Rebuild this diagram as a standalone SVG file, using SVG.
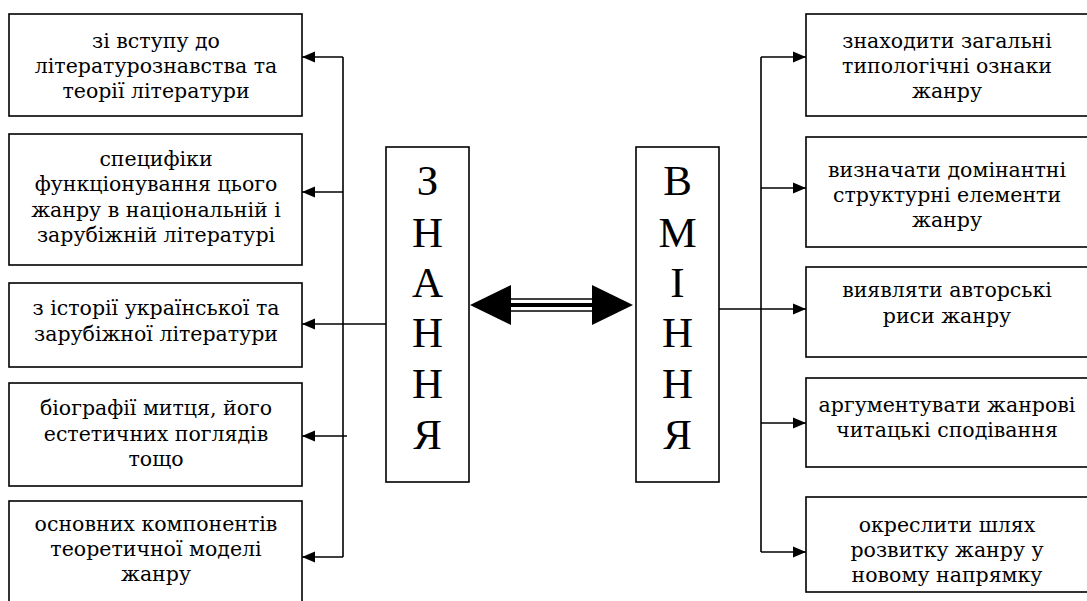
<svg xmlns="http://www.w3.org/2000/svg" width="1087" height="601" viewBox="0 0 1087 601">
<defs>
<style>
.box{fill:#fff;stroke:#000;stroke-width:1.6}
.ln{stroke:#000;stroke-width:1.6;fill:none}
</style>
<marker id="ah" markerUnits="userSpaceOnUse" markerWidth="14" markerHeight="12" refX="13" refY="6" orient="auto">
<path d="M0,0.5 L13,6 L0,11.5 Z" fill="#000"/>
</marker>
</defs>
<rect width="1087" height="601" fill="#fff"/>

<g id="connectors">
<line class="ln" x1="343" y1="57" x2="343" y2="557"/>
<line class="ln" x1="343" y1="57" x2="302" y2="57" marker-end="url(#ah)"/>
<line class="ln" x1="343" y1="192" x2="302" y2="192" marker-end="url(#ah)"/>
<line class="ln" x1="386" y1="324" x2="302" y2="324" marker-end="url(#ah)"/>
<line class="ln" x1="347" y1="436" x2="302" y2="436" marker-end="url(#ah)"/>
<line class="ln" x1="343" y1="557" x2="302" y2="557" marker-end="url(#ah)"/>
<line class="ln" x1="761" y1="57" x2="761" y2="552"/>
<line class="ln" x1="761" y1="57" x2="806" y2="57" marker-end="url(#ah)"/>
<line class="ln" x1="761" y1="188" x2="806" y2="188" marker-end="url(#ah)"/>
<line class="ln" x1="719" y1="309" x2="806" y2="309" marker-end="url(#ah)"/>
<line class="ln" x1="761" y1="423" x2="806" y2="423" marker-end="url(#ah)"/>
<line class="ln" x1="761" y1="552" x2="806" y2="552" marker-end="url(#ah)"/>
<g id="double-arrow">
<line x1="508" y1="299" x2="596" y2="299" stroke="#000" stroke-width="1.5"/>
<line x1="508" y1="305" x2="596" y2="305" stroke="#000" stroke-width="4.2"/>
<line x1="508" y1="311" x2="596" y2="311" stroke="#000" stroke-width="1.5"/>
<polygon points="470,305 511,285 511,325" fill="#000"/>
<polygon points="633,305 592,285 592,325" fill="#000"/>
</g>
</g>

<g fill="#000" text-anchor="middle">
<g font-family="DejaVu Serif, serif" font-size="20.5">
<g id="k1"><rect class="box" x="9" y="14" width="293" height="102"/>
<text x="156" y="48">зі вступу до</text><text x="156" y="73">літературознавства та</text><text x="156" y="98">теорії літератури</text></g>
<g id="k2"><rect class="box" x="9" y="134" width="293" height="131"/>
<text x="156" y="166">специфіки</text><text x="156" y="191">функціонування цього</text><text x="156" y="217">жанру в національній і</text><text x="156" y="242">зарубіжній літературі</text></g>
<g id="k3"><rect class="box" x="9" y="283" width="293" height="84"/>
<text x="156" y="315">з історії української та</text><text x="156" y="341">зарубіжної літератури</text></g>
<g id="k4"><rect class="box" x="9" y="383" width="293" height="103"/>
<text x="156" y="415">біографії митця, його</text><text x="156" y="441">естетичних поглядів</text><text x="156" y="466">тощо</text></g>
<g id="k5"><rect class="box" x="9" y="501" width="293" height="103"/>
<text x="156" y="531">основних компонентів</text><text x="156" y="556">теоретичної моделі</text><text x="156" y="581">жанру</text></g>
<g id="v1"><rect class="box" x="806" y="14" width="282" height="102"/>
<text x="947" y="48">знаходити загальні</text><text x="947" y="73">типологічні ознаки</text><text x="947" y="98">жанру</text></g>
<g id="v2"><rect class="box" x="806" y="137" width="282" height="110"/>
<text x="947" y="177">визначати домінантні</text><text x="947" y="202">структурні елементи</text><text x="947" y="227">жанру</text></g>
<g id="v3"><rect class="box" x="806" y="267" width="282" height="90"/>
<text x="947" y="297">виявляти авторські</text><text x="947" y="323">риси жанру</text></g>
<g id="v4"><rect class="box" x="806" y="378" width="282" height="89"/>
<text x="947" y="412">аргументувати жанрові</text><text x="947" y="437">читацькі сподівання</text></g>
<g id="v5"><rect class="box" x="806" y="497" width="282" height="95"/>
<text x="947" y="532">окреслити шлях</text><text x="947" y="557">розвитку жанру у</text><text x="947" y="582">новому напрямку</text></g>
</g>

<g font-family="Liberation Serif, serif" font-size="43">
<g id="znannia"><rect class="box" x="386" y="147" width="83" height="335"/>
<text x="427.5" y="195">З</text><text x="427.5" y="247">Н</text><text x="427.5" y="297">А</text><text x="427.5" y="347">Н</text><text x="427.5" y="398">Н</text><text x="427.5" y="449">Я</text></g>
<g id="vminnia"><rect class="box" x="636" y="147" width="83" height="335"/>
<text x="677.5" y="195">В</text><text x="677.5" y="247">М</text><text x="677.5" y="297">І</text><text x="677.5" y="347">Н</text><text x="677.5" y="398">Н</text><text x="677.5" y="449">Я</text></g>
</g>
</g>
</svg>
